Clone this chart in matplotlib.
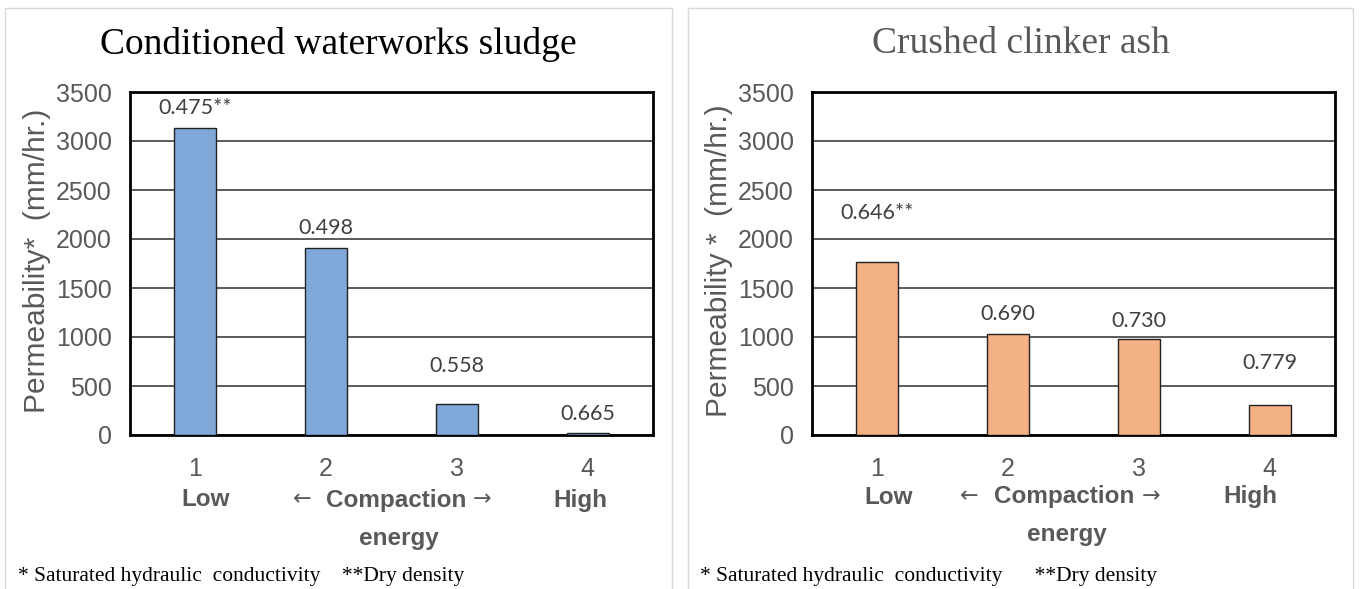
import matplotlib
matplotlib.use("Agg")
import matplotlib.pyplot as plt
from matplotlib.patches import Rectangle

# ---- data ----
categories = [1, 2, 3, 4]
sludge_title = "Conditioned waterworks sludge"
ash_title = "Crushed clinker ash"
sludge_perm = [3130, 1910, 320, 20]
ash_perm = [1765, 1030, 980, 310]
sludge_density = ["0.475**", "0.498", "0.558", "0.665"]
ash_density = ["0.646**", "0.690", "0.730", "0.779"]
sludge_label_y = [3337, 2112, 704, 214]
ash_label_y = [2265, 1235, 1163, 735]
y_ticks = [0, 500, 1000, 1500, 2000, 2500, 3000, 3500]
footnote_left = "* Saturated hydraulic  conductivity    **Dry density"
footnote_right = "* Saturated hydraulic  conductivity      **Dry density"

W, H = 1359, 589
fig = plt.figure(figsize=(W / 100, H / 100), dpi=100)
fig.patch.set_facecolor("white")

GRAY = "#595959"
LBL = "#404040"


def fx(px):
    return px / W


def fy(py):
    return 1 - py / H


# panel frames
for (x0, x1) in [(5, 672), (688, 1353)]:
    fig.patches.append(Rectangle((fx(x0), fy(600)), fx(x1 - x0), (600 - 8) / H,
                                 transform=fig.transFigure, fill=False,
                                 edgecolor="#d9d9d9", linewidth=1.0))


def panel(ax_left_px, panel_center_px, title, title_color, values, dens, lab_y,
          color, ylabel, foot_x, foot, low_x, comp_x, high_x, larr_x, rarr_x,
          text_row_y, energy_y):
    ax = fig.add_axes([fx(ax_left_px), fy(435), fx(523), 343 / H])
    ax.bar(categories, values, width=0.32, color=color, edgecolor="#222222",
           linewidth=1.0, zorder=3)
    ax.set_xlim(0.5, 4.5)
    ax.set_ylim(0, 3500)
    ax.set_yticks(y_ticks)
    ax.set_xticks(categories)
    ax.yaxis.grid(True, color="#404040", linewidth=1.2, zorder=0)
    for s in ax.spines.values():
        s.set_linewidth(2.0)
        s.set_color("black")
    ax.tick_params(axis="both", length=0, labelsize=18, labelcolor=GRAY)
    ax.tick_params(axis="y", pad=13)
    ax.tick_params(axis="x", pad=16)
    for lab in ax.get_xticklabels() + ax.get_yticklabels():
        lab.set_fontfamily("Liberation Sans")
    for c, d, ly in zip(categories, dens, lab_y):
        ax.text(c, ly, d, ha="center", va="center", fontsize=15.5,
                family="Lato", color=LBL)
    fig.text(fx(panel_center_px), fy(44), title, ha="center", va="center",
             fontsize=27, family="Liberation Serif", color=title_color)
    fig.text(fx(ax_left_px - 93), fy(261), ylabel, rotation=90, ha="center",
             va="center", fontsize=21.5, family="Liberation Sans", color=GRAY)
    for x, t in [(low_x, "Low"), (comp_x, "Compaction"), (high_x, "High")]:
        fig.text(fx(x), fy(text_row_y), t, ha="center", va="center",
                 fontsize=17.5, fontweight="bold", family="Liberation Sans",
                 color=GRAY)
    for x, t in [(larr_x, "\u2190"), (rarr_x, "\u2192")]:
        fig.text(fx(x), fy(text_row_y - 1), t, ha="center", va="center",
                 fontsize=16, family="DejaVu Sans", color=GRAY)
    fig.text(fx(comp_x + 3), fy(energy_y), "energy", ha="center", va="center",
             fontsize=17.5, fontweight="bold", family="Liberation Sans", color=GRAY)
    fig.text(fx(foot_x), fy(577), foot, ha="left", va="center",
             fontsize=15.5, family="Liberation Serif", color="black")
    return ax


panel(130, 338, sludge_title, "black", sludge_perm, sludge_density,
      sludge_label_y, "#7fa8d8", "Permeability*  (mm/hr.)", 18, footnote_left,
      206, 396, 580, 302, 482, 500, 538)
panel(812, 1021, ash_title, GRAY, ash_perm, ash_density,
      ash_label_y, "#f4b183", "Permeability *  (mm/hr.)", 700, footnote_right,
      889, 1064, 1250, 969, 1151, 497, 535)

fig.savefig("out.png", dpi=100)
